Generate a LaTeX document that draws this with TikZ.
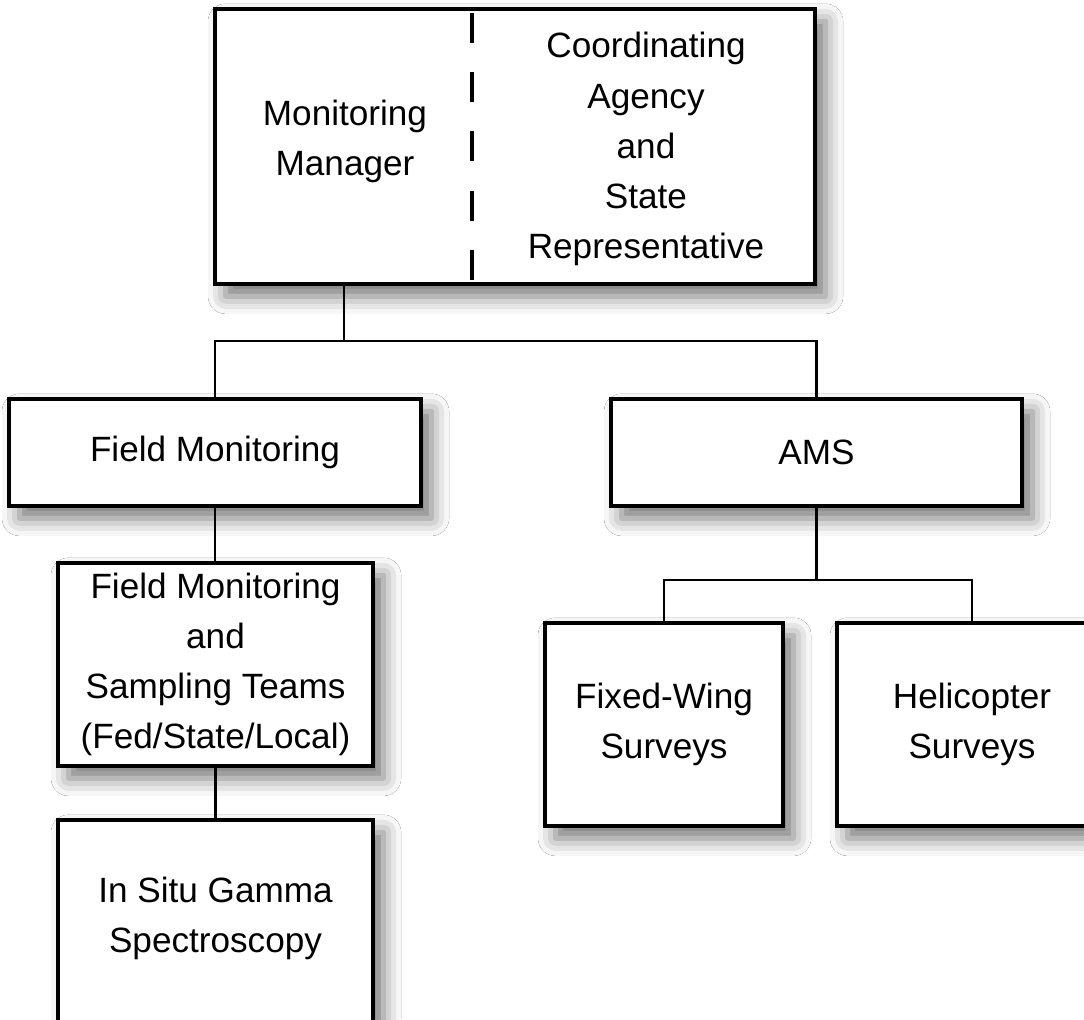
\documentclass[tikz,border=0pt]{standalone}
\usepackage{fontspec}
\setmainfont{Liberation Sans}
\usetikzlibrary{shadows.blur}
\tikzset{
	box/.style={draw=black, line width=2pt, fill=white, align=center, inner sep=0pt,
		font=\fontsize{20}{28.5}\selectfont,
		blur shadow={shadow xshift=6pt, shadow yshift=-7pt, shadow blur radius=10pt, shadow opacity=55}},
	boxtext/.style={align=center, inner sep=0pt, font=\fontsize{20}{28.5}\selectfont},
	link/.style={line width=1.6pt},
	divider/.style={line width=2pt, dash pattern=on 0.6cm off 0.585cm}
}

\begin{document}
\begin{tikzpicture}[x=0.02cm, y=-0.02cm]
			%%%%% START %%%%%
			\useasboundingbox[fill=white] (0, 0) rectangle (1084, 1019);
			
			\node[box, minimum width=12cm, minimum height=5.5cm] (mgr) at (515, 146.5) {};
			\draw[divider] (472, 13) -- (472, 280);
			\node[boxtext] (mgrtxt) at (345, 141) {Monitoring\\Manager};
			\node[boxtext] (coordtxt) at (646, 149) {Coordinating\\Agency\\and\\State\\Representative};
			
			\node[box, minimum width=8.24cm, minimum height=2.14cm] (fm) at (215, 452.5) {Field Monitoring};
			\node[box, minimum width=8.22cm, minimum height=2.14cm] (ams) at (816.5, 452.5) {AMS};
			
			\node[box, minimum width=6.3cm, minimum height=4.06cm] (fmst) at (215.5, 664.5) {Field Monitoring\\and\\Sampling Teams\\(Fed/State/Local)};
			\node[box, minimum width=6.3cm, minimum height=4.4cm] (gamma) at (215.5, 930) {};
			\node[boxtext] (gammatxt) at (215.5, 918) {In Situ Gamma\\Spectroscopy};
			
			\node[box, minimum width=4.76cm, minimum height=4.06cm] (fixed) at (664, 724.5) {Fixed-Wing\\Surveys};
			\node[box, minimum width=5.4cm, minimum height=4.06cm] (heli) at (972, 724.5) {Helicopter\\Surveys};
			
			\coordinate (split) at (344, 341);
			\draw[link] (mgr.south -| split) -- (split);
			\draw[link] (fm.north) |- (split) -| (ams.north);
			
			\draw[link] (fm.south) -- (fm.south |- fmst.north);
			\draw[link] (fmst.south) -- (fmst.south |- gamma.north);
			
			\coordinate (amssplit) at (816.5, 580);
			\draw[link] (ams.south) -- (amssplit);
			\draw[link] (fixed.north) |- (amssplit) -| (heli.north);
			
			%%%%% END %%%%%
\end{tikzpicture}
\end{document}
